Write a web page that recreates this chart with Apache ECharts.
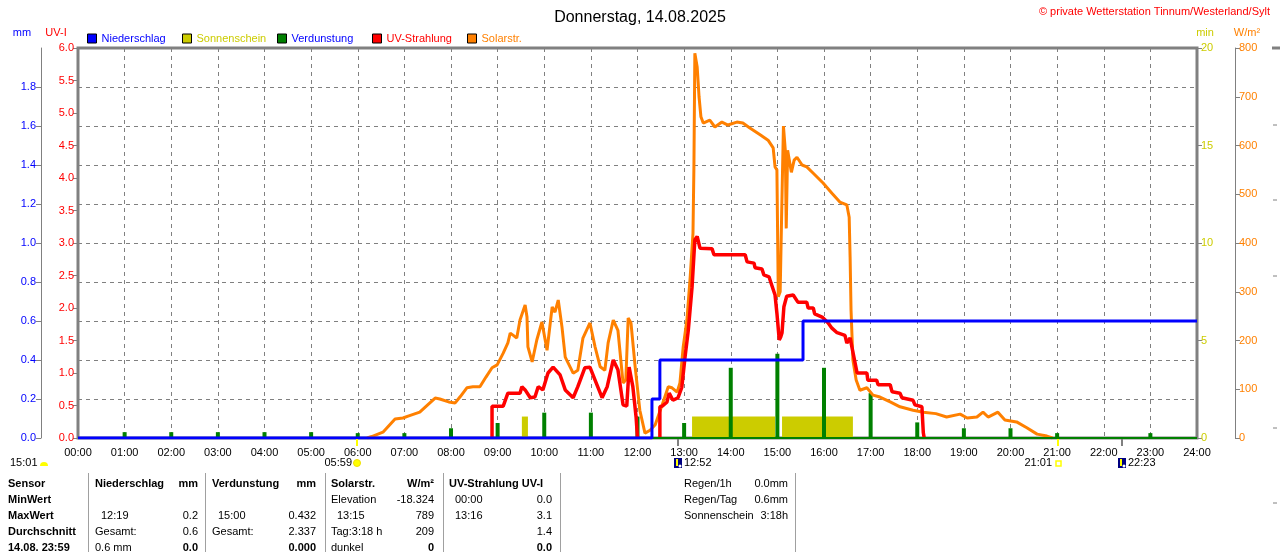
<!DOCTYPE html>
<html>
<head>
<meta charset="utf-8">
<title>Wetterstation Tinnum - Donnerstag, 14.08.2025</title>
<script src="https://cdn.jsdelivr.net/npm/echarts@6/dist/echarts.min.js"></script>
<style>
  html, body { margin: 0; padding: 0; background: #fff; }
  #chart { width: 1280px; height: 552px; }
</style>
</head>
<body>
<div id="chart"></div>
<script>
// ---- texts ----
const titleText = 'Donnerstag, 14.08.2025';
const copyrightText = '\u00a9 private Wetterstation Tinnum/Westerland/Sylt';
const hourLabels = ['00:00', '01:00', '02:00', '03:00', '04:00', '05:00', '06:00', '07:00', '08:00',
  '09:00', '10:00', '11:00', '12:00', '13:00', '14:00', '15:00', '16:00', '17:00', '18:00',
  '19:00', '20:00', '21:00', '22:00', '23:00', '24:00'];
const legendNames = ['Niederschlag', 'Sonnenschein', 'Verdunstung', 'UV-Strahlung', 'Solarstr.'];

// ---- Solarstrahlung (W/m²), time in decimal hours ----
const solarTime = [6.20, 6.30, 6.54, 6.80, 6.97, 7.08, 7.33, 7.50, 7.66, 7.76, 7.95, 8.09, 8.20, 8.34,
  8.47, 8.62, 8.75, 8.88, 8.99, 9.12, 9.22, 9.27, 9.33, 9.41, 9.48, 9.59, 9.63, 9.65, 9.74, 9.84, 9.95,
  10.02, 10.06, 10.17, 10.23, 10.30, 10.38, 10.45, 10.62, 10.72, 10.83, 10.98, 11.09, 11.20, 11.30,
  11.37, 11.48, 11.58, 11.69, 11.75, 11.80, 11.86, 11.95, 12.05, 12.16, 12.27, 12.38, 12.55, 12.66,
  12.74, 12.85, 12.91, 12.98, 13.06, 13.13, 13.19, 13.21, 13.23, 13.28, 13.32, 13.36, 13.41, 13.55,
  13.66, 13.81, 13.94, 14.13, 14.26, 14.41, 14.63, 14.80, 14.91, 14.95, 14.99, 15.02, 15.06, 15.09,
  15.13, 15.17, 15.19, 15.22, 15.30, 15.36, 15.42, 15.53, 15.63, 15.77, 15.98, 16.17, 16.34, 16.49,
  16.54, 16.56, 16.58, 16.62, 16.69, 16.77, 16.92, 17.05, 17.20, 17.42, 17.63, 17.91, 18.13, 18.40,
  18.63, 18.92, 19.07, 19.28, 19.41, 19.52, 19.73, 19.88, 20.13, 20.35, 20.57, 20.78, 20.90];
const solarValue = [0, 3, 12, 39, 41, 45, 53, 68, 82, 80, 74, 72, 85, 103,
  105, 105, 125, 144, 150, 174, 195, 215, 211, 205, 242, 273, 248, 187, 156, 201, 238,
  201, 180, 269, 258, 283, 228, 166, 133, 139, 205, 236, 187, 146, 139,
  195, 242, 221, 113, 119, 246, 236, 146, 57, 10, 16, 27, 74, 105,
  103, 94, 113, 187, 242, 330, 420, 556, 789, 761, 700, 659, 646, 652,
  638, 648, 642, 648, 646, 636, 622, 611, 595, 556, 550, 290, 300, 450,
  640, 590, 430, 590, 545, 570, 576, 560, 556, 543, 523, 502, 484, 478,
  453, 371, 262, 160, 119, 98, 103, 88, 84, 74, 64, 57, 53, 50,
  43, 49, 41, 43, 53, 43, 53, 37, 33, 21, 8, 4, 0];

// ---- UV-Strahlung (UV-I); null = no value ----
const uvTime = [8.88, 8.88, 9.12, 9.22, 9.48, 9.52, 9.59, 9.70, 9.80, 9.87, 9.97, 10.08, 10.19, 10.34,
  10.45, 10.62, 10.72, 10.87, 10.98, 11.09, 11.24, 11.35, 11.48, 11.58, 11.69, 11.77, 11.82, 11.90,
  11.97, 12.00, 12.20, 12.48, 12.48, 12.53, 12.63, 12.68, 12.76, 12.87, 12.95, 13.02, 13.09, 13.17,
  13.23, 13.28, 13.34, 13.60, 13.64, 14.31, 14.35, 14.50, 14.52, 14.67, 14.71, 14.82, 14.88, 14.95,
  14.99, 15.04, 15.07, 15.10, 15.14, 15.20, 15.34, 15.44, 15.63, 15.66, 15.77, 15.80, 15.96, 16.09,
  16.17, 16.28, 16.45, 16.49, 16.56, 16.62, 16.71, 16.92, 16.94, 17.13, 17.16, 17.42, 17.46, 17.63,
  17.67, 17.91, 17.95, 18.10, 18.13, 18.15];
const uvValue = [0, 0.49, 0.49, 0.69, 0.69, 0.79, 0.74, 0.62, 0.63, 0.79, 0.74, 1.00, 1.09, 0.97,
  0.74, 0.62, 0.79, 1.08, 1.09, 0.89, 0.62, 0.79, 1.20, 1.05, 0.51, 0.49, 1.09, 0.79,
  0.32, 0, null, 0, 0.48, 0.49, 0.55, 0.69, 0.58, 0.62, 0.78, 1.25, 1.66, 2.32,
  3.05, 3.10, 2.92, 2.91, 2.82, 2.82, 2.71, 2.69, 2.62, 2.60, 2.51, 2.48, 2.35, 2.20,
  1.92, 1.51, 1.55, 1.62, 2.02, 2.18, 2.20, 2.09, 2.09, 2.00, 2.00, 1.91, 1.86, 1.77,
  1.69, 1.62, 1.58, 1.46, 1.54, 1.32, 1.00, 1.00, 0.89, 0.89, 0.82, 0.82, 0.71, 0.69,
  0.62, 0.58, 0.51, 0.48, 0.08, 0];

// ---- Niederschlag, Tagessumme (mm) ----
const rainTime = [0, 12.31, 12.48, 15.55, 24];
const rainTotal = [0, 0.2, 0.4, 0.6, 0.6];

// ---- Verdunstung je Stunde (mm) ----
const evapHour = [1, 2, 3, 4, 5, 6, 7, 8, 9, 10, 11, 12, 13, 14, 15, 16, 17, 18, 19, 20, 21, 23];
const evapValue = [0.03, 0.03, 0.03, 0.03, 0.03, 0.025, 0.025, 0.05, 0.077, 0.13, 0.13, 0.11, 0.077,
  0.36, 0.432, 0.36, 0.23, 0.08, 0.05, 0.05, 0.025, 0.025];

// ---- Sonnenschein (min) ----
const sunStart = [9.52, 13.17, 15.10];
const sunEnd = [9.65, 14.95, 16.62];
const sunMinutes = [1.1, 1.1, 1.1];

// ---- Sonne / Mond ----
const astroTimes = ['05:59', '12:52', '21:01', '22:23'];
const astroKinds = ['sunrise', 'moonrise', 'sunset', 'moonset'];
const astroPrevText = '15:01';

// ---- Tabelle ----
const colSensor = ['Sensor', 'MinWert', 'MaxWert', 'Durchschnitt', '14.08. 23:59'];
const colRainLeft = ['Niederschlag', '', '12:19', 'Gesamt:', '0.6 mm'];
const colRainRight = ['mm', '', '0.2', '0.6', '0.0'];
const colEvapLeft = ['Verdunstung', '', '15:00', 'Gesamt:', ''];
const colEvapRight = ['mm', '', '0.432', '2.337', '0.000'];
const colSolarLeft = ['Solarstr.', 'Elevation', '13:15', 'Tag:3:18 h', 'dunkel'];
const colSolarRight = ['W/m\u00b2', '-18.324', '789', '209', '0'];
const colUvLeft = ['UV-Strahlung UV-I', '00:00', '13:16', '', ''];
const colUvRight = ['', '0.0', '3.1', '1.4', '0.0'];
const summaryLabels = ['Regen/1h', 'Regen/Tag', 'Sonnenschein'];
const summaryValues = ['0.0mm', '0.6mm', '3:18h'];

// ---- styling ----
const FONT = '"Liberation Sans", Arial, sans-serif';
const GRAY = '#808080';
const C_RAIN = '#0000FF', C_SUN = '#CCCC00', C_EVAP = '#008000', C_UV = '#FF0000', C_SOLAR = '#FF8000';
const legendBoxColors = [C_RAIN, C_SUN, C_EVAP, C_UV, C_SOLAR];
const legendTextColors = [C_RAIN, C_SUN, C_RAIN, C_UV, C_SOLAR];

const chart = echarts.init(document.getElementById('chart'));

const dashed = { show: true, lineStyle: { color: GRAY, type: [4, 4], width: 1 } };

function yAxisBase(color, extra) {
  return Object.assign({
    type: 'value',
    axisLine: { show: true, lineStyle: { color: GRAY, width: 1 } },
    axisTick: { show: true, length: 5, lineStyle: { color: GRAY } },
    axisLabel: { color: color, fontSize: 11, fontFamily: FONT, margin: 4 },
    splitLine: { show: false }
  }, extra);
}

const option = {
  animation: false,
  backgroundColor: '#ffffff',
  textStyle: { fontFamily: FONT, fontSize: 11 },
  title: {
    text: titleText, left: 'center', top: 5,
    textStyle: { fontSize: 16, fontWeight: 'normal', color: '#000', fontFamily: FONT }
  },
  legend: legendNames.map((name, i) => ({
    left: 87 + i * 95, top: 33, padding: 0, itemGap: 0,
    itemWidth: 9, itemHeight: 9, selectedMode: false,
    data: [{
      name: name, icon: 'rect',
      itemStyle: { color: legendBoxColors[i], borderColor: '#000', borderWidth: 1 },
      textStyle: { color: legendTextColors[i], fontSize: 11, fontFamily: FONT }
    }]
  })),
  grid: { left: 78, right: 83, top: 48, bottom: 114, show: true, borderColor: GRAY, borderWidth: 3 },
  xAxis: {
    type: 'value', min: 0, max: 24, interval: 1,
    axisLine: { show: false }, axisTick: { show: false },
    axisLabel: { color: '#000', fontSize: 11, fontFamily: FONT, margin: 9,
      formatter: v => hourLabels[Math.round(v)] },
    splitLine: dashed
  },
  yAxis: [
    yAxisBase(C_UV, { min: 0, max: 6, interval: 0.5, position: 'left', axisLine: { show: false },
      axisLabel: { color: C_UV, fontSize: 11, fontFamily: FONT, margin: 4, formatter: v => v.toFixed(1) } }),
    yAxisBase(C_RAIN, { min: 0, max: 2, interval: 0.2, position: 'left', offset: 37, splitLine: dashed,
      axisLabel: { color: C_RAIN, fontSize: 11, fontFamily: FONT, margin: 5, showMaxLabel: false,
        formatter: v => v.toFixed(1) } }),
    yAxisBase(C_SUN, { min: 0, max: 20, interval: 5, position: 'right', axisLine: { show: false } }),
    yAxisBase(C_SOLAR, { min: 0, max: 800, interval: 100, position: 'right', offset: 38 })
  ],
  series: [
    {
      name: 'Sonnenschein', type: 'custom', xAxisIndex: 0, yAxisIndex: 2, z: 1,
      itemStyle: { color: C_SUN },
      encode: { x: [0, 1], y: 2 },
      data: sunStart.map((s, i) => [s, sunEnd[i], sunMinutes[i]]),
      renderItem: (params, api) => {
        const p0 = api.coord([api.value(0), api.value(2)]);
        const p1 = api.coord([api.value(1), 0]);
        return { type: 'rect', shape: { x: p0[0], y: p0[1], width: p1[0] - p0[0], height: p1[1] - p0[1] },
          style: { fill: C_SUN } };
      }
    },
    {
      name: 'Verdunstung', type: 'bar', yAxisIndex: 1, z: 2, barWidth: 4,
      itemStyle: { color: C_EVAP },
      data: evapHour.map((h, i) => [h, evapValue[i]]),
      markLine: {
        silent: true, symbol: 'none', label: { show: false },
        lineStyle: { color: C_EVAP, width: 2, type: 'solid' },
        data: [{ yAxis: 0 }]
      }
    },
    {
      name: 'Solarstr.', type: 'line', yAxisIndex: 3, z: 3, showSymbol: false,
      itemStyle: { color: C_SOLAR }, lineStyle: { color: C_SOLAR, width: 3 },
      data: solarTime.map((t, i) => [t, solarValue[i]])
    },
    {
      name: 'UV-Strahlung', type: 'line', yAxisIndex: 0, z: 4, showSymbol: false, connectNulls: false,
      itemStyle: { color: C_UV }, lineStyle: { color: C_UV, width: 3.5 },
      data: uvTime.map((t, i) => [t, uvValue[i] === null ? '-' : uvValue[i]])
    },
    {
      name: 'Niederschlag', type: 'line', yAxisIndex: 1, z: 5, showSymbol: false, step: 'end',
      itemStyle: { color: C_RAIN }, lineStyle: { color: C_RAIN, width: 3 },
      data: rainTime.map((t, i) => [t, rainTotal[i]])
    }
  ]
};

chart.setOption(option);

// ---- decorations: texts, table, sun/moon markers ----
const toHours = s => { const p = s.split(':'); return +p[0] + p[1] / 60; };
const xPix = h => chart.convertToPixel({ xAxisIndex: 0 }, h);
const yBase = chart.convertToPixel({ yAxisIndex: 0 }, 0);

function txt(text, x, y, color, opts) {
  opts = opts || {};
  return {
    type: 'text', silent: true, z: 10,
    style: {
      text: text, x: x, y: y, fill: color || '#000',
      font: (opts.bold ? 'bold ' : '') + (opts.size || 11) + 'px ' + FONT,
      align: opts.align || 'left', verticalAlign: 'middle'
    }
  };
}
function vline(x, y1, y2, color, w) {
  return { type: 'line', silent: true, z: 10, shape: { x1: x, y1: y1, x2: x, y2: y2 },
    style: { stroke: color, lineWidth: w || 1 } };
}

const g = [];
g.push(txt(copyrightText, 1270, 12, '#FF0000', { align: 'right' }));
g.push(txt('mm', 22, 33, C_RAIN, { align: 'center' }));
g.push(txt('UV-I', 56, 33, C_UV, { align: 'center' }));
g.push(txt('min', 1205, 33, C_SUN, { align: 'center' }));
g.push(txt('W/m\u00b2', 1247, 33, C_SOLAR, { align: 'center' }));

// sun / moon markers below the time axis
const labelY = 463;
astroTimes.forEach((t, i) => {
  const x = Math.round(xPix(toHours(t)));
  const kind = astroKinds[i];
  const isSun = kind === 'sunrise' || kind === 'sunset';
  g.push(vline(x, yBase + 1, yBase + 8, isSun ? '#FFFF00' : GRAY, 2));
  if (kind === 'sunrise') {
    g.push({ type: 'circle', silent: true, z: 10, shape: { cx: x, cy: labelY, r: 3.5 },
      style: { fill: '#FFFF00', stroke: '#F0E000', lineWidth: 1 } });
    g.push(txt(t, x - 5, labelY, '#000', { align: 'right' }));
  } else if (kind === 'sunset') {
    g.push({ type: 'rect', silent: true, z: 10, shape: { x: x - 2, y: labelY - 2, width: 5, height: 5 },
      style: { fill: '#fff', stroke: '#FFFF00', lineWidth: 1.5 } });
    g.push(txt(t, x - 6, labelY, '#000', { align: 'right' }));
  } else {
    g.push({ type: 'rect', silent: true, z: 10, shape: { x: x - 4, y: labelY - 5, width: 8, height: 10 },
      style: { fill: '#000080' } });
    g.push({ type: 'rect', silent: true, z: 11, shape: { x: x - 2, y: labelY - 4, width: 2, height: 7 },
      style: { fill: '#FFFF00' } });
    g.push({ type: 'circle', silent: true, z: 11, shape: { cx: x + 2, cy: labelY + 3, r: 1.5 },
      style: { fill: '#fff' } });
    g.push(txt(t, x + 6, labelY, '#000', { align: 'left' }));
  }
});
g.push(txt(astroPrevText, 10, labelY, '#000'));
g.push({ type: 'sector', silent: true, z: 10,
  shape: { cx: 44, cy: labelY + 3, r0: 0, r: 4, startAngle: Math.PI, endAngle: 2 * Math.PI },
  style: { fill: '#FFFF00' } });

// table
const rowY = [484, 500, 516, 532, 548];
const isTime = s => /^\d\d:\d\d$/.test(s);
[88, 205, 325, 443, 560, 795].forEach(x => g.push(vline(x + 0.5, 473, 552, '#A0A0A0', 1)));
colSensor.forEach((s, r) => g.push(txt(s, 8, rowY[r], '#000', { bold: true })));
const pairs = [
  [colRainLeft, colRainRight, 95, 198],
  [colEvapLeft, colEvapRight, 212, 316],
  [colSolarLeft, colSolarRight, 331, 434],
  [colUvLeft, colUvRight, 449, 552]
];
pairs.forEach(p => {
  p[0].forEach((s, r) => {
    if (!s) return;
    g.push(txt(s, p[2] + (isTime(s) ? 6 : 0), rowY[r], '#000', { bold: r === 0 }));
  });
  p[1].forEach((s, r) => {
    if (!s) return;
    g.push(txt(s, p[3], rowY[r], '#000', { bold: r === 0 || r === 4, align: 'right' }));
  });
});
summaryLabels.forEach((s, r) => {
  g.push(txt(s, 684, rowY[r], '#000'));
  g.push(txt(summaryValues[r], 788, rowY[r], '#000', { align: 'right' }));
});

// edge of the neighbouring chart at the right border
g.push({ type: 'line', silent: true, z: 10, shape: { x1: 1272, y1: 48, x2: 1280, y2: 48 },
  style: { stroke: GRAY, lineWidth: 3 } });
[125, 200, 276, 428, 503].forEach(y => g.push({ type: 'line', silent: true, z: 10,
  shape: { x1: 1273, y1: y, x2: 1280, y2: y }, style: { stroke: GRAY, lineWidth: 1, lineDash: [4, 3] } }));

chart.setOption({ graphic: g });
</script>
</body>
</html>
